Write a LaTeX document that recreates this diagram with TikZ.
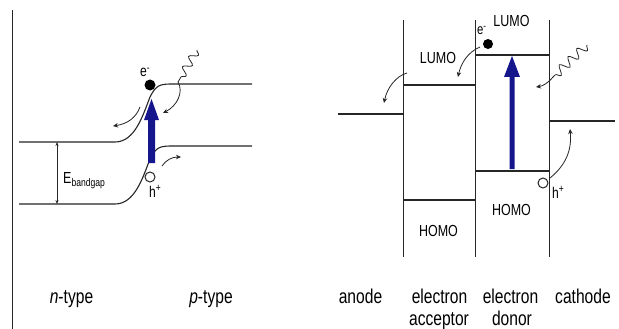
\documentclass[tikz,border=0pt]{standalone}
\usepackage{fontspec}
\setmainfont{Liberation Sans}[FakeStretch=0.78]
\usetikzlibrary{arrows.meta,decorations.pathmorphing}
\definecolor{ink}{rgb}{0.15,0.15,0.15}
\definecolor{exblue}{RGB}{22,22,140}
\tikzset{
  band/.style={draw=ink, line width=1.1pt},
  wall/.style={draw=ink, line width=0.9pt},
  thinarr/.style={draw=ink, line width=0.8pt, -{Stealth[length=5pt,width=4.5pt]}},
  wave/.style={draw=ink, line width=0.8pt, decorate, decoration={snake,amplitude=4pt,segment length=12pt}},
  bluearr/.style={fill=exblue, draw=none},
  lbl/.style={font=\fontsize{20}{22}\selectfont, inner sep=0pt, anchor=base, text=black},
  orb/.style={font=\fontsize{16}{18}\selectfont, inner sep=0pt, text=black},
  chg/.style={font=\fontsize{15.5}{17}\selectfont, inner sep=0pt, anchor=base west, text=black},
}
\begin{document}
\begin{tikzpicture}[x=1pt,y=-1pt]
\fill[white] (0,0) rectangle (619,329);
\useasboundingbox (0,0) rectangle (619,329);

% ---------- left panel ----------
\draw[wall] (12,10) -- (12,329);
\draw[band] (19,142) -- (115,142) .. controls (135,142) and (143,115) .. (150,97)
  .. controls (156,85) and (160,84) .. (172,84) -- (252,84);
\draw[band] (19,204) -- (115,204) .. controls (135,204) and (143,177) .. (150,159)
  .. controls (156,147) and (160,146) .. (172,146) -- (252,146);
\coordinate (gapT) at (57,142);
\coordinate (gapB) at (57,204);
\draw[draw=ink, line width=0.7pt, {Stealth[length=4pt,width=3pt]}-{Stealth[length=4pt,width=3pt]}] (gapT) -- (gapB);
\node[orb, anchor=base west] (Egap) at (63,183) {E\raisebox{-3pt}{\fontsize{11}{12}\selectfont bandgap}};

% blue excitation arrow (left)
\fill[bluearr] (148,163) -- (155,163) -- (155,120) -- (159,120) -- (151.5,99) -- (144,120) -- (148,120) -- cycle;

% electron and hole
\node[circle, fill=black, minimum size=11pt, inner sep=0pt] (eL) at (150,85) {};
\node[chg] (eLlbl) at (140,77) {e\textsuperscript{-}};
\node[circle, draw=ink, line width=1pt, fill=white, minimum size=10pt, inner sep=0pt] (hL) at (150,177) {};
\node[chg] (hLlbl) at (149,197) {h\textsuperscript{+}};

\coordinate (eLs) at (140,107);
\coordinate (eLe) at (113,126);
\draw[thinarr] (eLs) .. controls (136,118) and (127,124) .. (eLe);
\coordinate (hLs) at (162,166);
\coordinate (hLe) at (181,157);
\draw[thinarr] (hLs) .. controls (166,160) and (172,157) .. (hLe);

% photon (left)
\coordinate (wL1) at (197,50);
\coordinate (wL2) at (178,82);
\coordinate (wL3) at (163,113);
\draw[wave] (wL1) -- (wL2);
\draw[thinarr] (wL2) .. controls (184,92) and (177,106) .. (wL3);

% ---------- right panel ----------
\draw[wall] (403,20) -- (403,257);
\draw[wall] (475,20) -- (475,257);
\draw[wall] (549,20) -- (549,257);
\draw[band] (338,114) -- (403,114);
\draw[band] (403,85) -- (475,85);
\draw[band] (403,200) -- (475,200);
\draw[band] (475,55) -- (549,55);
\draw[band] (475,171) -- (549,171);
\draw[band] (549,121) -- (615,121);

\node[orb] (lumoA) at (438,57.5) {LUMO};
\node[orb] (lumoD) at (511.5,21) {LUMO};
\node[orb] (homoD) at (511.5,209.5) {HOMO};
\node[orb] (homoA) at (438.5,231) {HOMO};

% blue excitation arrow (right)
\fill[bluearr] (509.5,169) -- (514.5,169) -- (514.5,77) -- (520,77) -- (512,56) -- (504,77) -- (509.5,77) -- cycle;

\node[circle, fill=black, minimum size=10pt, inner sep=0pt] (eR) at (488,44) {};
\node[chg, font=\fontsize{14.5}{16}\selectfont] (eRlbl) at (477,35) {e\textsuperscript{-}};
\node[circle, draw=ink, line width=1pt, fill=white, minimum size=10pt, inner sep=0pt] (hR) at (543,183) {};
\node[chg] (hRlbl) at (552,198) {h\textsuperscript{+}};

\coordinate (eRs) at (480,47);
\coordinate (eRe) at (458,77);
\draw[thinarr] (eRs) .. controls (468,52) and (461,63) .. (eRe);
\coordinate (anS) at (407,73);
\coordinate (anE) at (384,103);
\draw[thinarr] (anS) .. controls (396,76) and (387,88) .. (anE);
\coordinate (hRs) at (550,178);
\coordinate (hRe) at (570,129);
\draw[thinarr] (hRs) .. controls (566,165) and (572,150) .. (hRe);

% photon (right)
\coordinate (wR1) at (587,45);
\coordinate (wR2) at (553,77);
\coordinate (wR3) at (536,87);
\draw[wave, decoration={snake,amplitude=4.5pt,segment length=12pt}] (wR1) -- (wR2);
\draw[thinarr] (wR2) .. controls (548,83) and (543,86) .. (wR3);

% ---------- bottom labels ----------
\node[lbl] (nT) at (71.5,303) {\textit{n}-type};
\node[lbl] (pT) at (211,303) {\textit{p}-type};
\node[lbl] (an) at (360.5,303) {anode};
\node[lbl] (el1) at (439.5,303) {electron};
\node[lbl] (acc) at (439,325) {acceptor};
\node[lbl] (el2) at (510.5,303) {electron};
\node[lbl] (don) at (512,325) {donor};
\node[lbl] (cat) at (583,303) {cathode};
\end{tikzpicture}
\end{document}
